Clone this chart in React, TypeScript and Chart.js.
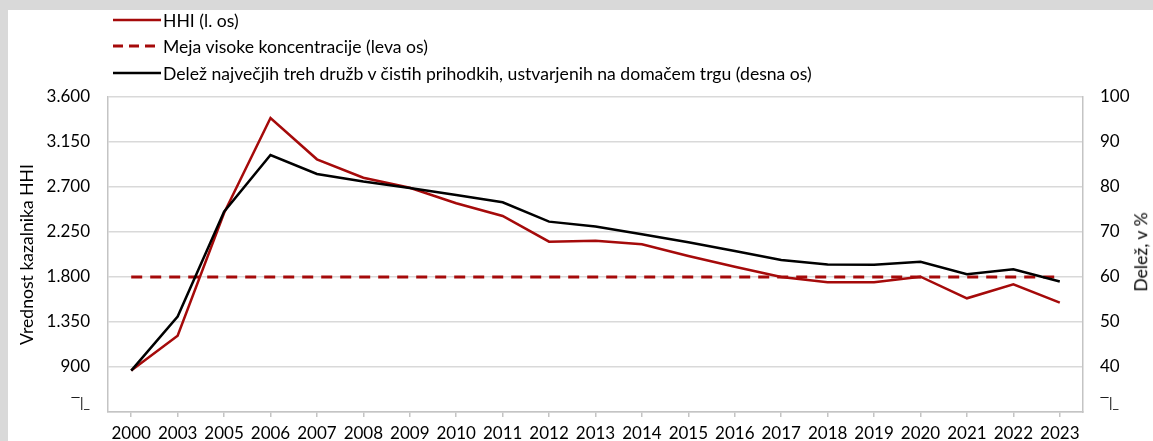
import React, { useEffect, useRef } from "react";
import { Chart, registerables } from "chart.js";

Chart.register(...registerables);

const categories = [
  "2000", "2003", "2005", "2006", "2007", "2008", "2009", "2010", "2011", "2012", "2013",
  "2014", "2015", "2016", "2017", "2018", "2019", "2020", "2021", "2022", "2023",
];
const hhiValues = [
  865, 1213, 2440, 3390, 2977, 2793, 2693, 2537, 2410, 2153, 2163,
  2127, 2010, 1903, 1800, 1747, 1747, 1803, 1587, 1727, 1543,
];
const thresholdValues = [
  1800, 1800, 1800, 1800, 1800, 1800, 1800, 1800, 1800, 1800, 1800,
  1800, 1800, 1800, 1800, 1800, 1800, 1800, 1800, 1800, 1800,
];
const shareValues = [
  39.2, 51.2, 74.5, 87.1, 82.9, 81.2, 79.8, 78.2, 76.6, 72.3, 71.2,
  69.5, 67.7, 65.8, 63.8, 62.8, 62.7, 63.4, 60.6, 61.7, 59.0,
];
const leftTickValues = [450, 900, 1350, 1800, 2250, 2700, 3150, 3600];
const rightTickValues = [30, 40, 50, 60, 70, 80, 90, 100];
const breakGlyph = "‾|_";

const legendLabels = [
  "HHI (l. os)",
  "Meja visoke koncentracije (leva os)",
  "Delež največjih treh družb v čistih prihodkih, ustvarjenih na domačem trgu (desna os)",
];
const leftAxisTitle = "Vrednost kazalnika HHI";
const rightAxisTitle = "Delež, v %";

const RED = "#a50a0a";
const BLACK = "#000000";
const GRID = "#d9d9d9";
const BORDER = "#c4c4c4";
const FONT = "Lato";
const TICK_SIZE = 17;
const TEXT_SIZE = 17.6;

function formatThousands(v: number): string {
  const s = String(Math.round(v));
  return s.replace(/\B(?=(\d{3})+(?!\d))/g, ".");
}

const tickFont = (ctx: any) => {
  const isBreak = ctx && ctx.tick && (ctx.tick.value === 450 || ctx.tick.value === 30);
  return { family: FONT, size: isBreak ? 14 : TICK_SIZE };
};

export default function App() {
  const canvasRef = useRef<HTMLCanvasElement | null>(null);

  useEffect(() => {
    if (!canvasRef.current) return;
    const chart = new Chart(canvasRef.current, {
      type: "line",
      data: {
        labels: categories,
        datasets: [
          {
            label: legendLabels[0],
            data: hhiValues,
            yAxisID: "y",
            borderColor: RED,
            borderWidth: 2.5,
            pointRadius: 0,
            tension: 0,
            order: 1,
          },
          {
            label: legendLabels[1],
            data: thresholdValues,
            yAxisID: "y",
            borderColor: RED,
            borderWidth: 3,
            borderDash: [11, 8],
            pointRadius: 0,
            order: 2,
          },
          {
            label: legendLabels[2],
            data: shareValues,
            yAxisID: "y1",
            borderColor: BLACK,
            borderWidth: 2.5,
            pointRadius: 0,
            tension: 0,
            order: 0,
          },
        ],
      },
      options: {
        animation: false,
        responsive: false,
        devicePixelRatio: 1,
        layout: { padding: { top: 97, left: 0, right: 0, bottom: 0 } },
        plugins: {
          legend: { display: false },
          tooltip: { enabled: false },
        },
        scales: {
          x: {
            type: "category",
            offset: true,
            grid: {
              display: true,
              drawOnChartArea: false,
              drawTicks: true,
              tickLength: 5,
              color: BORDER,
              lineWidth: 1.5,
              offset: false,
            },
            border: { display: true, color: BORDER, width: 1.5 },
            ticks: {
              color: "#000",
              font: { family: FONT, size: TICK_SIZE },
              padding: 6,
              maxRotation: 0,
              autoSkip: false,
            },
            afterFit: (s: any) => {
              s.height = 29;
            },
          },
          y: {
            position: "left",
            min: 450,
            max: 3600,
            afterBuildTicks: (s: any) => {
              s.ticks = leftTickValues.map((v) => ({ value: v }));
            },
            grid: {
              color: GRID,
              lineWidth: 1.5,
              drawTicks: false,
            },
            border: { display: true, color: BORDER, width: 1.5 },
            ticks: {
              color: "#000",
              font: tickFont,
              padding: 18,
              callback: (v: any) =>
                Number(v) === 450 ? [breakGlyph, ""] : formatThousands(Number(v)),
            },
            title: {
              display: true,
              text: leftAxisTitle,
              color: "#000",
              font: { family: FONT, size: TEXT_SIZE },
              padding: { top: 17, bottom: 0 },
            },
            afterFit: (s: any) => {
              s.width = 108;
              s.paddingBottom = 0;
              s.paddingTop = 0;
            },
          },
          y1: {
            position: "right",
            min: 30,
            max: 100,
            afterBuildTicks: (s: any) => {
              s.ticks = rightTickValues.map((v) => ({ value: v }));
            },
            grid: {
              drawOnChartArea: false,
              drawTicks: false,
            },
            border: { display: true, color: BORDER, width: 1.5 },
            ticks: {
              color: "#000",
              font: tickFont,
              padding: 17,
              callback: (v: any) => (Number(v) === 30 ? [breakGlyph, ""] : String(v)),
            },
            title: { display: false },
            afterFit: (s: any) => {
              s.width = 70;
              s.paddingBottom = 0;
              s.paddingTop = 0;
            },
          },
        },
      },
    });
    return () => chart.destroy();
  }, []);

  const legendRows = [
    { y: 20, dash: false, color: RED, width: 2.5 },
    { y: 46, dash: true, color: RED, width: 3 },
    { y: 73, dash: false, color: BLACK, width: 2.5 },
  ];

  return (
    <div
      style={{
        position: "fixed",
        left: 0,
        top: 0,
        width: 1153,
        height: 441,
        background: "#d9d9d9",
        overflow: "hidden",
        fontFamily: FONT,
      }}
    >
      <div
        style={{
          position: "absolute",
          left: 8,
          top: 10,
          right: 0,
          bottom: 0,
          background: "#ffffff",
        }}
      />
      <canvas
        ref={canvasRef}
        width={1153}
        height={441}
        style={{ position: "absolute", left: 0, top: 0, width: 1153, height: 441 }}
      />
      {legendRows.map((r, i) => (
        <div
          key={i}
          style={{
            position: "absolute",
            left: 113,
            top: r.y - 12,
            height: 24,
            display: "flex",
            alignItems: "center",
            whiteSpace: "nowrap",
          }}
        >
          <svg width={48} height={24} style={{ display: "block" }}>
            <line
              x1={0}
              y1={12}
              x2={48}
              y2={12}
              stroke={r.color}
              strokeWidth={r.width}
              strokeDasharray={r.dash ? "10 6" : undefined}
            />
          </svg>
          <span style={{ marginLeft: 2, fontSize: TEXT_SIZE, color: "#000", fontFamily: FONT }}>
            {legendLabels[i]}
          </span>
        </div>
      ))}
      <div
        style={{
          position: "absolute",
          left: 1141,
          top: 252,
          transform: "translate(-50%, -50%) rotate(-90deg)",
          whiteSpace: "nowrap",
          fontSize: TEXT_SIZE,
          color: "#000",
          fontFamily: FONT,
          lineHeight: 1,
        }}
      >
        {rightAxisTitle}
      </div>
    </div>
  );
}
